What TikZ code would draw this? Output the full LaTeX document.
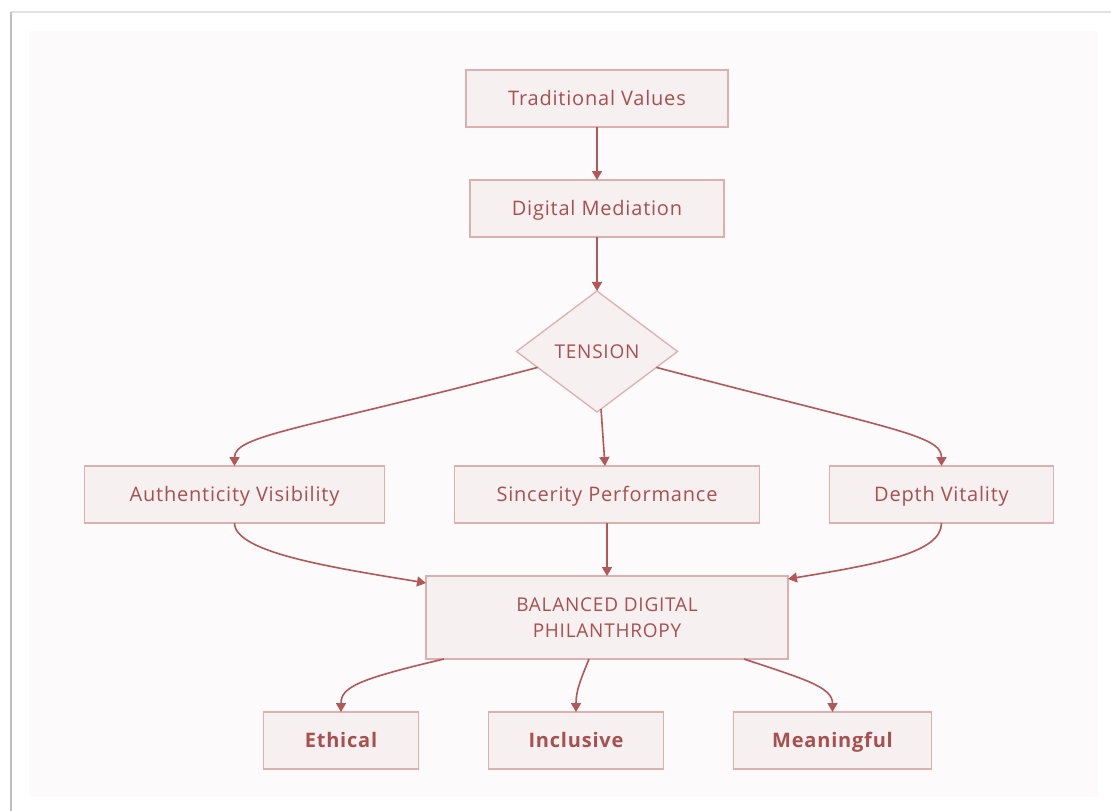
\documentclass[tikz,border=0pt]{standalone}
\usepackage{fontspec}
\setmainfont[LetterSpace=4]{Open Sans}
\usetikzlibrary{arrows.meta, positioning, shapes.geometric}

\definecolor{boxfill}{RGB}{247,240,240}
\definecolor{boxline}{RGB}{221,176,176}
\definecolor{textred}{RGB}{168,80,80}
\definecolor{linkred}{RGB}{178,88,88}
\definecolor{bgpink}{RGB}{253,250,251}

\begin{document}
\begin{tikzpicture}[
		box/.style={draw=boxline, fill=boxfill, line width=1.3pt, text=textred, minimum height=57pt, inner sep=0pt, outer sep=0pt, text height=14.3pt, text depth=0pt, font=\fontsize{20}{26}\selectfont},
		outcome/.style={box, font=\fontsize{20}{26}\selectfont\bfseries},
		decision/.style={diamond, draw=boxline, fill=boxfill, line width=1.3pt, text=textred, minimum width=161pt, minimum height=121pt, inner sep=0pt, outer sep=0pt, font=\fontsize{19}{26}\selectfont},
		link/.style={draw=linkred, line width=1.6pt, -{Triangle[length=9pt, width=10pt]}},
		node distance=53pt]
		% Frame and background
		\useasboundingbox (0,0) rectangle (1111pt,-811pt);
		\fill[white] (0,0) rectangle (1111pt,-811pt);
		\draw[black!12, line width=1.5pt] (11pt,-12pt) -- (1111pt,-12pt);
		\draw[black!25, line width=2pt] (11pt,-12pt) -- (11pt,-811pt);
		\fill[bgpink] (29pt,-31pt) rectangle (1098pt,-797pt);
		
		% Define nodes
		\node[box, minimum width=262pt] (TV) at (597pt,-98.5pt) {Traditional Values};
		\node[box, minimum width=254pt] (DM) [below=of TV] {Digital Mediation};
		\node[decision] (T) [below=54pt of DM] {TENSION};
		
		\node[box, minimum width=305pt] (SP) [below=54pt of T, xshift=10pt] {Sincerity Performance};
		\node[box, minimum width=300pt] (AV) [left=70pt of SP] {Authenticity Visibility};
		\node[box, minimum width=224pt] (DV) [right=70pt of SP] {Depth Vitality};
		
		\node[box, minimum width=362pt, minimum height=83pt, text height=, text depth=, align=center, font=\fontsize{19}{26}\selectfont] (BDP) [below=of SP] {BALANCED DIGITAL\\PHILANTHROPY};
		
		\node[outcome, minimum width=175pt] (I) [below=of BDP, xshift=-31pt] {Inclusive};
		\node[outcome, minimum width=155pt] (E) [left=70pt of I] {Ethical};
		\node[outcome, minimum width=198pt] (M) [right=70pt of I] {Meaningful};
		
		% Draw connections
		\draw[link] (TV) -- (DM);
		\draw[link] (DM) -- (T);
		\draw[link] (T.195) .. controls +(-235pt,-62pt) and +(0,31pt) .. (AV.north);
		\draw[link] (T) -- (SP);
		\draw[link] (T.345) .. controls +(235pt,-62pt) and +(0,31pt) .. (DV.north);
		\draw[link] (AV.south) .. controls +(0,-30pt) and +(-90pt,15pt) .. ([yshift=-7pt]BDP.north west);
		\draw[link] (SP) -- (BDP);
		\draw[link] (DV.south) .. controls +(0,-30pt) and +(90pt,15pt) .. ([yshift=-3pt]BDP.north east);
		\draw[link] ([xshift=18pt]BDP.south west) .. controls +(-85pt,-20pt) and +(0,25pt) .. (E.north);
		\draw[link] ([xshift=-18pt]BDP.south) .. controls +(-8pt,-20pt) and +(0,22pt) .. (I.north);
		\draw[link] ([xshift=-44pt]BDP.south east) .. controls +(60pt,-20pt) and +(0,25pt) .. (M.north);
	\end{tikzpicture}
\end{document}
